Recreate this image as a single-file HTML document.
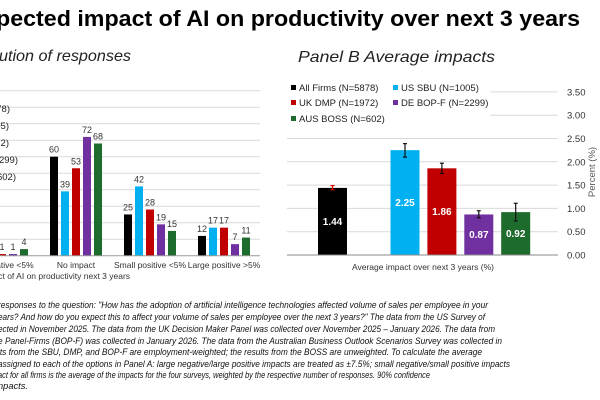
<!DOCTYPE html>
<html><head><meta charset="utf-8"><style>
html,body{margin:0;padding:0;background:#fff;}
svg{display:block;font-family:"Liberation Sans",sans-serif;}
</style></head><body>
<svg id="chart" width="600" height="400" viewBox="0 0 600 400">
<text x="-4" y="26" font-size="22" font-weight="bold" fill="#000" textLength="584" lengthAdjust="spacingAndGlyphs">pected impact of AI on productivity over next 3 years</text>
<text x="-1" y="61" font-size="16" font-style="italic" fill="#222" textLength="132" lengthAdjust="spacingAndGlyphs">ution of responses</text>
<text x="298" y="62" font-size="16" font-style="italic" fill="#222" textLength="197" lengthAdjust="spacingAndGlyphs">Panel B Average impacts</text>
<g id="panelA"></g>
<g id="panelB"></g>
<g font-size="9.3" font-style="italic" fill="#111">
<text x="-2" y="308" textLength="490" lengthAdjust="spacingAndGlyphs">responses to the question: "How has the adoption of artificial intelligence technologies affected volume of sales per employee in your</text>
<text x="-2" y="320" textLength="487" lengthAdjust="spacingAndGlyphs">ears? And how do you expect this to affect your volume of sales per employee over the next 3 years?" The data from the US Survey of</text>
<text x="-2" y="332" textLength="497" lengthAdjust="spacingAndGlyphs">ected in November 2025. The data from the UK Decision Maker Panel was collected over November 2025 – January 2026. The data from</text>
<text x="-2" y="344" textLength="504" lengthAdjust="spacingAndGlyphs">e Panel-Firms (BOP-F) was collected in January 2026. The data from the Australian Business Outlook Scenarios Survey was collected in</text>
<text x="-2" y="355" textLength="484" lengthAdjust="spacingAndGlyphs">lts from the SBU, DMP, and BOP-F are employment-weighted; the results from the BOSS are unweighted. To calculate the average</text>
<text x="-2" y="367" textLength="512" lengthAdjust="spacingAndGlyphs">assigned to each of the options in Panel A: large negative/large positive impacts are treated as ±7.5%; small negative/small positive impacts</text>
<text x="-2" y="378" textLength="432" lengthAdjust="spacingAndGlyphs">act for all firms is the average of the impacts for the four surveys, weighted by the respective number of responses. 90% confidence</text>
<text x="-2" y="389">npacts.</text>
</g>
</svg>
<script>
const NS='http://www.w3.org/2000/svg';
// Panel A data
const aCategories=['Small negative <5%','No impact','Small positive <5%','Large positive >5%'];
const aAll=[0,60,25,12];
const aUS=[0,39,42,17];
const aUK=[1,53,28,17];
const aDE=[1,72,19,7];
const aAUS=[4,68,15,11];
const aTicks=[0,10,20,30,40,50,60,70,80,90,100];
// Panel B data
const bSeries=['All Firms (N=5878)','US SBU (N=1005)','UK DMP (N=1972)','DE BOP-F (N=2299)','AUS BOSS (N=602)'];
const bValues=[1.44,2.25,1.86,0.87,0.92];
const bLow=[1.40,2.10,1.75,0.80,0.73];
const bHigh=[1.49,2.39,1.97,0.95,1.11];
const bTicks=[0,0.5,1,1.5,2,2.5,3,3.5];
const colors=['#000000','#00b0f0','#c00000','#7030a0','#1e6b2e'];

function el(tag,attrs,parent,text){const e=document.createElementNS(NS,tag);for(const k in attrs)e.setAttribute(k,attrs[k]);if(text!==undefined)e.textContent=text;parent.appendChild(e);return e;}

// Panel A
const A=document.getElementById('panelA');
const ay=v=>255.7-v*1.65;
const catX=i=>2+i*74;
const barX=(i,s)=>catX(i)-22+s*11;
aTicks.forEach(t=>{if(t>0){const l=el('line',{x1:-5,x2:260,y1:ay(t),y2:ay(t),stroke:'#d9d9d9','stroke-width':1},A);

}});
const aSeries=[aAll,aUS,aUK,aDE,aAUS];
aCategories.forEach((c,i)=>{
  aSeries.forEach((arr,s)=>{
    const v=arr[i];const x=barX(i,s);
    const r=el('rect',{x:x-4,y:ay(v),width:8,height:v*1.65,fill:colors[s]},A);
    
    
    if(v>0){const t=el('text',{x:x,y:ay(v)-4,'font-size':9,'text-anchor':'middle',fill:'#333'},A,String(v));
    
    }
  });
  const cl=el('text',{x:catX(i)+(i==0?-6:0),y:268,'font-size':8.5,'text-anchor':'middle',fill:'#333'},A,c);
  
  
});
const ax=el('line',{x1:-5,x2:260,y1:255.7,y2:255.7,stroke:'#999','stroke-width':1},A);


const axt=el('text',{x:-58,y:279,'font-size':8.5,fill:'#333'},A,'Expected impact of AI on productivity next 3 years');


const legEnds=[10,9,9,18,16];
bSeries.forEach((s,i)=>{const t=el('text',{x:legEnds[i],y:112+i*17,'font-size':9.5,'text-anchor':'end',fill:'#222'},A,s);

});

// Panel B
const B=document.getElementById('panelB');
const by=v=>255-v*46.6;
const bx=i=>i==0?332.5:405+(i-1)*36.9;
bTicks.forEach(t=>{
  const x1=t>=3?490:287;
  if(t>0){const l=el('line',{x1:x1,x2:558,y1:by(t),y2:by(t),stroke:'#d9d9d9','stroke-width':1},B);
  
  }
  const tl=el('text',{x:567,y:by(t)+3.5,'font-size':9.5,fill:'#333'},B,t.toFixed(2));
  
  
});
bValues.forEach((v,i)=>{
  const x=bx(i);
  const r=el('rect',{x:x-14.5,y:by(v),width:29,height:v*46.6,fill:colors[i]},B);
  
  
  const ec=i==0?'#e00000':'#111';
  const g=el('g',{stroke:ec,'stroke-width':1.2},B);
  
  
  el('line',{x1:x,x2:x,y1:by(bHigh[i]),y2:by(bLow[i])},g);
  el('line',{x1:x-2,x2:x+2,y1:by(bHigh[i]),y2:by(bHigh[i])},g);
  el('line',{x1:x-2,x2:x+2,y1:by(bLow[i]),y2:by(bLow[i])},g);
  const t=el('text',{x:x,y:by(v/2)+3.5,'font-size':10,'font-weight':'bold','text-anchor':'middle',fill:'#fff'},B,v.toFixed(2));
  
  
});
const bax=el('line',{x1:287,x2:558,y1:255,y2:255,stroke:'#888','stroke-width':1},B);


const bxt=el('text',{x:423,y:270,'font-size':8.5,'text-anchor':'middle',fill:'#333'},B,'Average impact over next 3 years (%)');


const byt=el('text',{x:0,y:0,'font-size':9.5,'text-anchor':'middle',fill:'#555',transform:'translate(595,172) rotate(-90)'},B,'Percent (%)');


const legPos=[[291,89],[393,89],[291,104],[393,104],[291,120]];
bSeries.forEach((s,i)=>{
  const g=el('g',{},B);
  
  
  el('rect',{x:legPos[i][0],y:legPos[i][1]-4,width:5,height:5,fill:colors[i]},g);
  el('text',{x:legPos[i][0]+8,y:legPos[i][1]+2,'font-size':9.5,fill:'#222'},g,s);
});
</script>
</body></html>
